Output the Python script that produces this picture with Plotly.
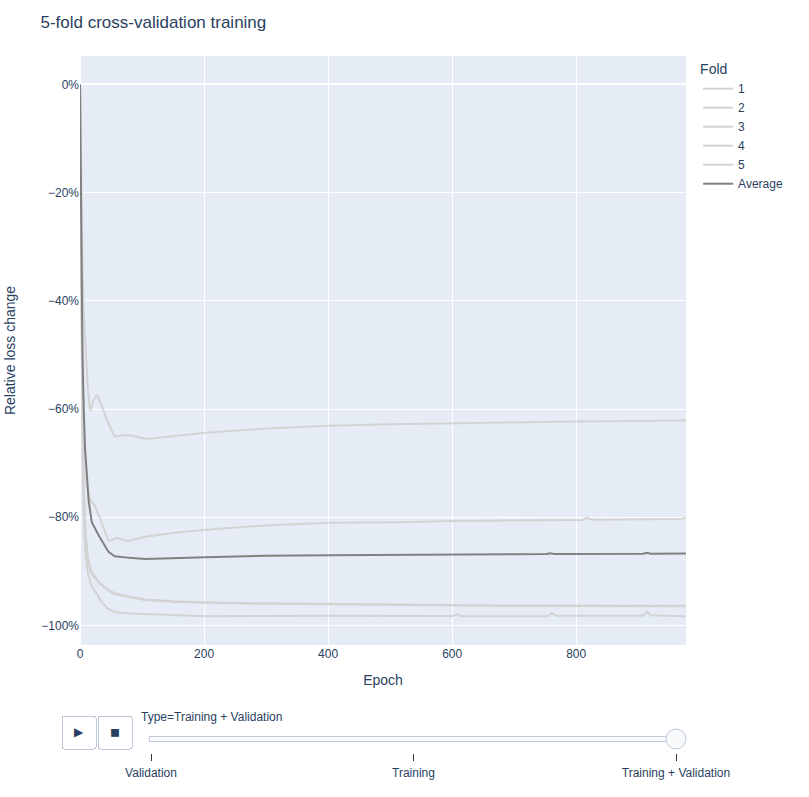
import plotly.graph_objects as go

# epochs / relative loss change (Training + Validation frame)
fold1_epoch = [0, 2, 4, 6, 9, 12, 15, 17, 21, 27, 32, 38, 47, 56, 70, 83, 95, 105, 120, 150,
               202, 300, 400, 500, 600, 700, 800, 900, 977]
fold1_loss = [0, -0.20, -0.33, -0.42, -0.50, -0.55, -0.59, -0.603, -0.585, -0.574, -0.585, -0.604,
              -0.630, -0.651, -0.648, -0.649, -0.653, -0.655, -0.654, -0.650,
              -0.644, -0.636, -0.631, -0.628, -0.626, -0.624, -0.623, -0.622, -0.621]

fold2_epoch = [0, 2, 4, 6, 8, 11, 16, 24, 35, 46, 52, 59, 68, 78, 90, 105, 150, 202, 300, 400,
               516, 600, 700, 810, 817, 822, 830, 900, 970, 977]
fold2_loss = [0, -0.30, -0.50, -0.62, -0.69, -0.74, -0.768, -0.778, -0.810, -0.843, -0.842, -0.838,
              -0.841, -0.844, -0.840, -0.836, -0.829, -0.823, -0.815, -0.810,
              -0.809, -0.807, -0.806, -0.805, -0.801, -0.803, -0.8045, -0.8035, -0.803, -0.801]

fold3_epoch = [0, 2, 4, 6, 9, 13, 17, 21, 32, 45, 56, 80, 105, 150, 202, 300, 400, 516, 700, 977]
fold3_loss = [0, -0.40, -0.62, -0.75, -0.84, -0.88, -0.90, -0.908, -0.923, -0.935, -0.942, -0.948,
              -0.953, -0.956, -0.958, -0.960, -0.961, -0.963, -0.964, -0.9645]

fold4_epoch = [0, 2, 4, 6, 9, 13, 18, 24, 35, 45, 56, 80, 105, 202, 400, 600, 607, 613, 755, 761,
               767, 908, 914, 920, 977]
fold4_loss = [0, -0.45, -0.68, -0.80, -0.87, -0.905, -0.925, -0.936, -0.957, -0.969, -0.975, -0.978,
              -0.979, -0.983, -0.982, -0.9825, -0.979, -0.983, -0.983, -0.977,
              -0.982, -0.982, -0.974, -0.981, -0.983]

fold5_epoch = [0, 2, 4, 6, 9, 13, 17, 21, 32, 45, 56, 80, 105, 150, 202, 300, 400, 516, 700, 977]
fold5_loss = [0, -0.38, -0.60, -0.74, -0.83, -0.875, -0.896, -0.906, -0.921, -0.934, -0.940, -0.947,
              -0.952, -0.955, -0.957, -0.959, -0.960, -0.962, -0.963, -0.9635]

avg_epoch = [0, 2, 4, 6, 8, 11, 14, 19, 30, 46, 56, 80, 105, 202, 300, 400, 516, 600, 752, 758,
             764, 908, 914, 920, 977]
avg_loss = [0, -0.28, -0.50, -0.60, -0.67, -0.72, -0.77, -0.809, -0.833, -0.864, -0.872, -0.875,
            -0.877, -0.874, -0.871, -0.870, -0.869, -0.8685, -0.868, -0.8665,
            -0.868, -0.8675, -0.8655, -0.8672, -0.867]

folds = ["1", "2", "3", "4", "5", "Average"]
epochs = [fold1_epoch, fold2_epoch, fold3_epoch, fold4_epoch, fold5_epoch, avg_epoch]
losses = [fold1_loss, fold2_loss, fold3_loss, fold4_loss, fold5_loss, avg_loss]
types = ["Validation", "Training", "Training + Validation"]
shown_type = "Training + Validation"

traces = []
for name, x, y in zip(folds, epochs, losses):
    color = "gray" if name == "Average" else "lightgray"
    traces.append(go.Scatter(
        x=x, y=y, mode="lines", name=name, legendgroup=name,
        line=dict(color=color, width=2),
        hovertemplate="Type=" + shown_type + "<br>Fold=" + name +
                      "<br>Epoch=%{x}<br>Relative loss change=%{y}<extra></extra>"
    ))

anim_args = {"frame": {"duration": 0, "redraw": False}, "mode": "immediate",
             "fromcurrent": True, "transition": {"duration": 0, "easing": "linear"}}

fig = go.Figure(data=traces, frames=[go.Frame(name=shown_type, data=traces)])
fig.update_layout(
    width=809, height=797,
    template="plotly",
    font=dict(family="Arial, Liberation Sans, sans-serif"),
    title="5-fold cross-validation training",
    legend=dict(title=dict(text="Fold"), tracegroupgap=0),
    margin=dict(t=56, l=80, r=123),
    xaxis=dict(title="Epoch", range=[0, 977]),
    yaxis=dict(title=dict(text="Relative loss change", standoff=22), automargin=False,
               range=[-1.036, 0.0524], tickformat=".0%"),
    updatemenus=[dict(
        type="buttons", direction="left", showactive=False,
        x=0.1, xanchor="right", y=0, yanchor="top", pad={"t": 70, "r": 10},
        buttons=[
            dict(label="&#9654;", method="animate",
                 args=[None, {"frame": {"duration": 500, "redraw": False}, "mode": "immediate",
                              "fromcurrent": True, "transition": {"duration": 500, "easing": "linear"}}]),
            dict(label="&#9724;", method="animate", args=[[None], anim_args]),
        ]
    )],
    sliders=[dict(
        active=types.index(shown_type),
        currentvalue={"prefix": "Type="},
        len=0.9, pad={"b": 10, "t": 60},
        x=0.1, xanchor="left", y=0, yanchor="top",
        steps=[dict(label=t, method="animate", args=[[t], anim_args]) for t in types]
    )]
)

fig.write_html("out.html", config={"displayModeBar": False},
               post_script="document.body.style.margin = '0';")
